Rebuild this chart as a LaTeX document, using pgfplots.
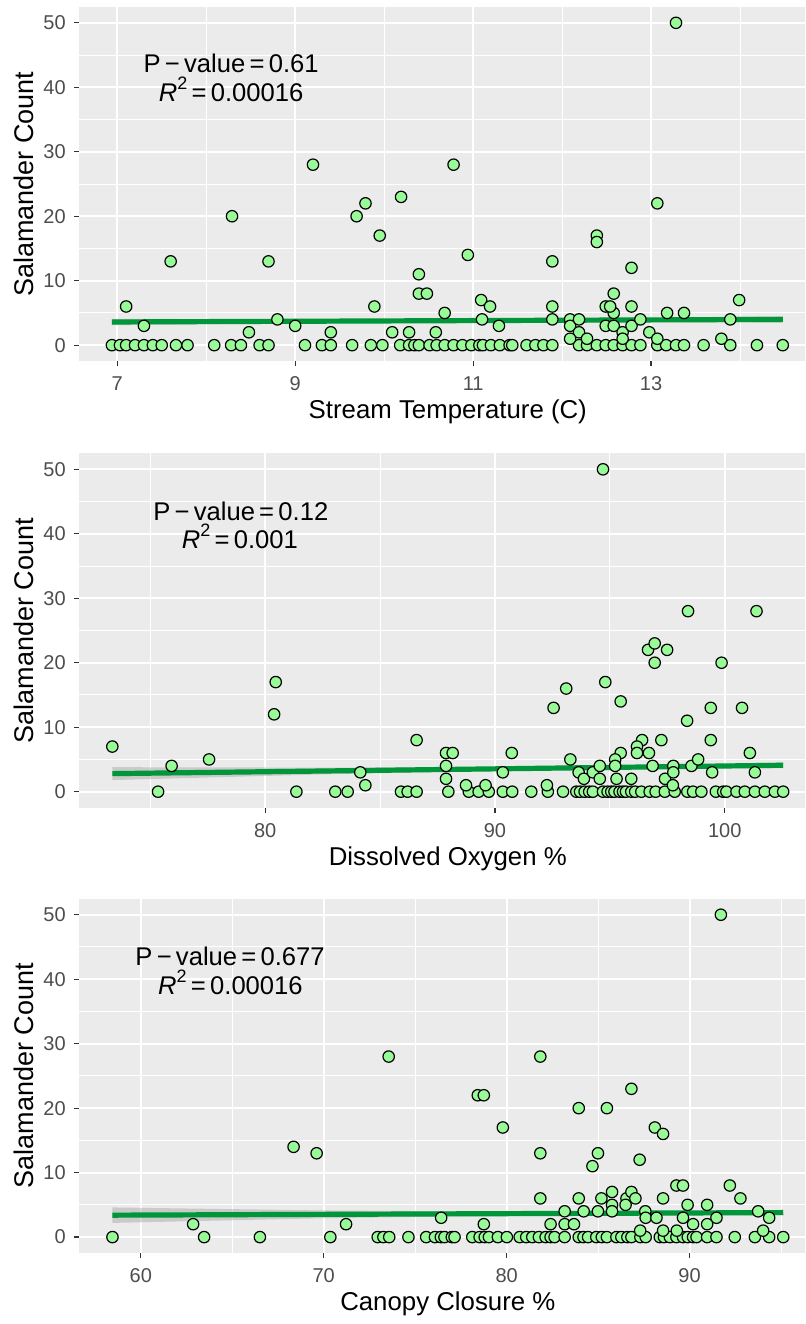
\documentclass[border=0pt]{standalone}
\usepackage{fontspec}
\setmainfont{Liberation Sans}
\usepackage{pgfplots}
\pgfplotsset{compat=1.18}

\definecolor{panelbg}{HTML}{EBEBEB}
\definecolor{tickgray}{HTML}{4D4D4D}
\definecolor{tickc}{HTML}{333333}
\definecolor{ptgreen}{HTML}{98FB98}
\definecolor{fitgreen}{RGB}{0,150,57}
\definecolor{bandgray}{HTML}{999999}

% ggplot-like panel, 1px = 0.5pt
\pgfplotsset{gg/.style={
  scale only axis, width=363pt, height=177.3pt, anchor=north west,
  ymin=-2.5, ymax=52.5, ytick={0,10,...,50}, minor ytick={5,15,...,45},
  axis background/.style={fill=panelbg},
  axis line style={draw=none},
  grid=both,
  major grid style={white, line width=1pt},
  minor grid style={white, line width=0.5pt},
  tick align=outside, tick pos=left,
  major tick length=2.5pt, minor tick length=0pt,
  major tick style={draw=tickc, line width=0.6pt},
  tick label style={font=\fontsize{10}{11}\selectfont, text=tickgray},
  /pgf/number format/assume math mode=true,
  xticklabel style={yshift=-1.6pt},
  yticklabel style={xshift=-0.6pt},
  label style={font=\fontsize{12.9}{15}\selectfont, text=black},
  xlabel style={at={(axis description cs:0.508,-0.1438)}, anchor=center},
  ylabel style={at={(axis description cs:-0.0758,0.5)}, anchor=center,
    font=\fontsize{13.5}{16}\selectfont},
  ylabel={Salamander Count},
}}
\pgfplotsset{pts/.style={only marks, mark=*, mark size=2.85pt,
  mark options={fill=ptgreen, draw=black, line width=0.6pt}}}
\pgfplotsset{band/.style={draw=none, fill=bandgray, fill opacity=0.4}}
\pgfplotsset{fit/.style={fitgreen, line width=2.6pt, no marks}}
\tikzset{ann/.style={font=\fontsize{12.8}{14}\selectfont, anchor=base, inner sep=0pt}}
\newcommand{\rsq}{\textit{R}\raisebox{0.45em}{\fontsize{9}{9}\selectfont 2}}

\begin{document}
\begin{tikzpicture}
\useasboundingbox (0,0) rectangle (402.5pt,-662pt);

% ---------- Stream temperature ----------
\begin{axis}[gg, at={(39.5pt,-3.35pt)},
  xmin=6.57, xmax=14.73, xtick={7,9,11,13}, minor xtick={8,10,12,14},
  xlabel={Stream Temperature (C)}]
\addplot[band] coordinates {(6.94,4.1)(8.9,4.0)(10.8,4.0)(12.6,4.2)(14.48,4.5)
  (14.48,3.5)(12.6,3.6)(10.8,3.6)(8.9,3.4)(6.94,3.1)} -- cycle;
\addplot[fit] coordinates {(6.94,3.6)(14.48,4.0)};
\addplot[pts] coordinates {
  (6.94,0)(7.03,0)(7.10,0)(7.20,0)(7.30,0)(7.40,0)(7.50,0)(7.66,0)(7.79,0)
  (8.09,0)(8.28,0)(8.39,0)(8.60,0)(8.70,0)(9.11,0)(9.30,0)(9.40,0)(9.64,0)
  (9.85,0)(9.98,0)(10.18,0)(10.28,0)(10.34,0)(10.39,0)(10.51,0)(10.59,0)
  (10.68,0)(10.78,0)(10.88,0)(10.98,0)(11.07,0)(11.11,0)(11.20,0)(11.30,0)
  (11.41,0)(11.44,0)(11.60,0)(11.70,0)(11.79,0)(11.89,0)(12.19,0)(12.28,0)
  (12.39,0)(12.49,0)(12.58,0)(12.68,0)(12.78,0)(12.88,0)(13.07,0)(13.17,0)
  (13.28,0)(13.37,0)(13.59,0)(13.89,0)(14.19,0)(14.48,0)
  (7.10,6)(7.30,3)(7.60,13)(8.29,20)(8.48,2)(8.70,13)(8.80,4)(9.00,3)
  (9.20,28)(9.40,2)(9.69,20)(9.79,22)(9.95,17)(9.89,6)(10.09,2)(10.19,23)
  (10.28,2)(10.39,11)(10.39,8)(10.48,8)(10.58,2)(10.68,5)(10.78,28)(10.94,14)
  (13.28,50)(13.07,22)(12.39,17)(12.39,16)(11.89,13)(12.78,12)(11.09,7)
  (11.19,6)(11.10,4)(11.29,3)(11.89,6)(11.89,4)(12.09,4)(12.09,3)(12.19,4)
  (12.19,2)(12.09,1)(12.28,1)(12.49,6)(12.58,8)(12.58,5)(12.54,6)(12.49,3)
  (12.58,3)(12.68,2)(12.68,1)(12.78,6)(12.78,3)(12.88,4)(12.98,2)(13.07,1)
  (13.18,5)(13.37,5)(13.79,1)(13.89,4)(13.99,7)
};
\node[ann] at (axis cs:8.28,42.26) {P\,−\,value\,=\,0.61};
\node[ann] at (axis cs:8.28,37.87) {\rsq\,=\,0.00016};
\end{axis}

% ---------- Dissolved oxygen ----------
\begin{axis}[gg, at={(39.5pt,-226.6pt)},
  xmin=71.9, xmax=103.49, xtick={80,90,100}, minor xtick={75,85,95},
  xlabel={Dissolved Oxygen \%}]
\addplot[band] coordinates {(73.35,3.8)(83,3.73)(93,3.87)(98,4.15)(102.54,4.55)
  (102.54,3.65)(98,3.65)(93,3.47)(83,2.73)(73.35,1.8)} -- cycle;
\addplot[fit] coordinates {(73.35,2.8)(102.54,4.1)};
\addplot[pts] coordinates {
  (75.34,0)(81.36,0)(83.05,0)(83.59,0)(85.91,0)(86.20,0)(86.59,0)
  (87.97,0)(88.86,0)(89.29,0)(89.73,0)(90.34,0)(90.75,0)(91.58,0)(92.30,0)
  (92.96,0)(93.54,0)(93.70,0)(93.90,0)(94.10,0)(94.26,0)(94.70,0)(94.90,0)
  (95.06,0)(95.20,0)(95.42,0)(95.57,0)(95.70,0)(95.93,0)(96.10,0)(96.37,0)
  (96.73,0)(96.99,0)(97.39,0)(97.82,0)(98.37,0)(98.62,0)(98.98,0)(99.61,0)
  (99.93,0)(100.07,0)(100.51,0)(100.87,0)(101.31,0)(101.74,0)(102.18,0)(102.54,0)
  (73.35,7)(75.93,4)(77.56,5)(80.46,17)(80.39,12)(84.14,3)(84.36,1)(86.59,8)
  (94.70,50)(98.40,28)(101.38,28)(96.66,22)(96.95,23)(97.49,22)(96.95,20)
  (99.86,20)(94.80,17)(93.10,16)(92.55,13)(95.47,14)(99.39,13)(100.75,13)
  (98.36,11)(99.39,8)(97.24,8)(96.40,8)(96.18,7)(96.18,6)(96.70,6)(95.47,6)
  (95.23,5)(87.87,6)(88.16,6)(87.87,4)(87.87,2)(88.74,1)(89.59,1)(90.34,3)
  (90.73,6)(92.26,1)(93.28,5)(93.64,3)(93.87,2)(94.26,3)(94.56,4)(94.56,2)
  (95.23,4)(95.29,2)(95.93,2)(96.86,4)(97.40,2)(97.76,4)(97.76,3)(97.74,1)
  (98.55,4)(98.84,5)(99.45,3)(101.09,6)(101.31,3)
};
\node[ann] at (axis cs:78.94,42.12) {P\,−\,value\,=\,0.12};
\node[ann] at (axis cs:78.90,37.73) {\rsq\,=\,0.001};
\end{axis}

% ---------- Canopy closure ----------
\begin{axis}[gg, at={(39.5pt,-449.3pt)},
  xmin=56.62, xmax=96.31, xtick={60,70,80,90}, minor xtick={65,75,85,95},
  xlabel={Canopy Closure \%}]
\addplot[band] coordinates {(58.45,4.6)(70,4.13)(84,3.88)(95.12,4.2)
  (95.12,3.4)(84,3.48)(70,2.93)(58.45,2.2)} -- cycle;
\addplot[fit] coordinates {(58.45,3.4)(95.12,3.8)};
\addplot[pts] coordinates {
  (58.45,0)(63.46,0)(66.51,0)(70.36,0)(72.95,0)(73.26,0)(73.58,0)(74.63,0)
  (75.60,0)(76.08,0)(76.40,0)(76.60,0)(77.00,0)(77.15,0)(78.12,0)(78.52,0)
  (78.80,0)(79.03,0)(79.52,0)(80.01,0)(80.71,0)(81.07,0)(81.40,0)(81.76,0)
  (82.13,0)(82.40,0)(82.62,0)(83.17,0)(83.94,0)(84.20,0)(84.45,0)(84.90,0)
  (85.20,0)(85.48,0)(86.00,0)(86.27,0)(86.60,0)(86.82,0)(87.31,0)(87.60,0)
  (88.37,0)(88.60,0)(88.92,0)(89.28,0)(89.64,0)(89.90,0)(90.19,0)(90.38,0)
  (90.96,0)(91.47,0)(92.47,0)(93.57,0)(94.35,0)(95.12,0)
  (62.86,2)(68.35,14)(69.61,13)(73.55,28)(71.22,2)(91.71,50)(81.84,28)
  (78.42,22)(78.75,22)(79.79,17)(86.82,23)(83.94,20)(85.48,20)(88.10,17)
  (88.55,16)(81.84,13)(84.99,13)(84.69,11)(87.27,12)(89.28,8)(89.64,8)
  (92.20,8)(92.78,6)(81.84,6)(83.94,6)(85.18,6)(85.76,7)(86.55,6)(86.82,7)
  (87.04,6)(88.55,6)(85.76,5)(86.50,5)(89.89,5)(90.96,5)(83.17,4)(84.21,4)
  (84.99,4)(85.76,4)(87.58,4)(93.75,4)(76.42,3)(87.60,3)(88.19,3)(89.64,3)
  (91.47,3)(94.35,3)(78.75,2)(82.40,2)(83.17,2)(83.68,2)(90.19,2)(90.96,2)
  (87.30,1)(88.55,1)(89.30,1)(94.02,1)
};
\node[ann] at (axis cs:64.88,42.19) {P\,−\,value\,=\,0.677};
\node[ann] at (axis cs:64.90,37.69) {\rsq\,=\,0.00016};
\end{axis}
\end{tikzpicture}
\end{document}
